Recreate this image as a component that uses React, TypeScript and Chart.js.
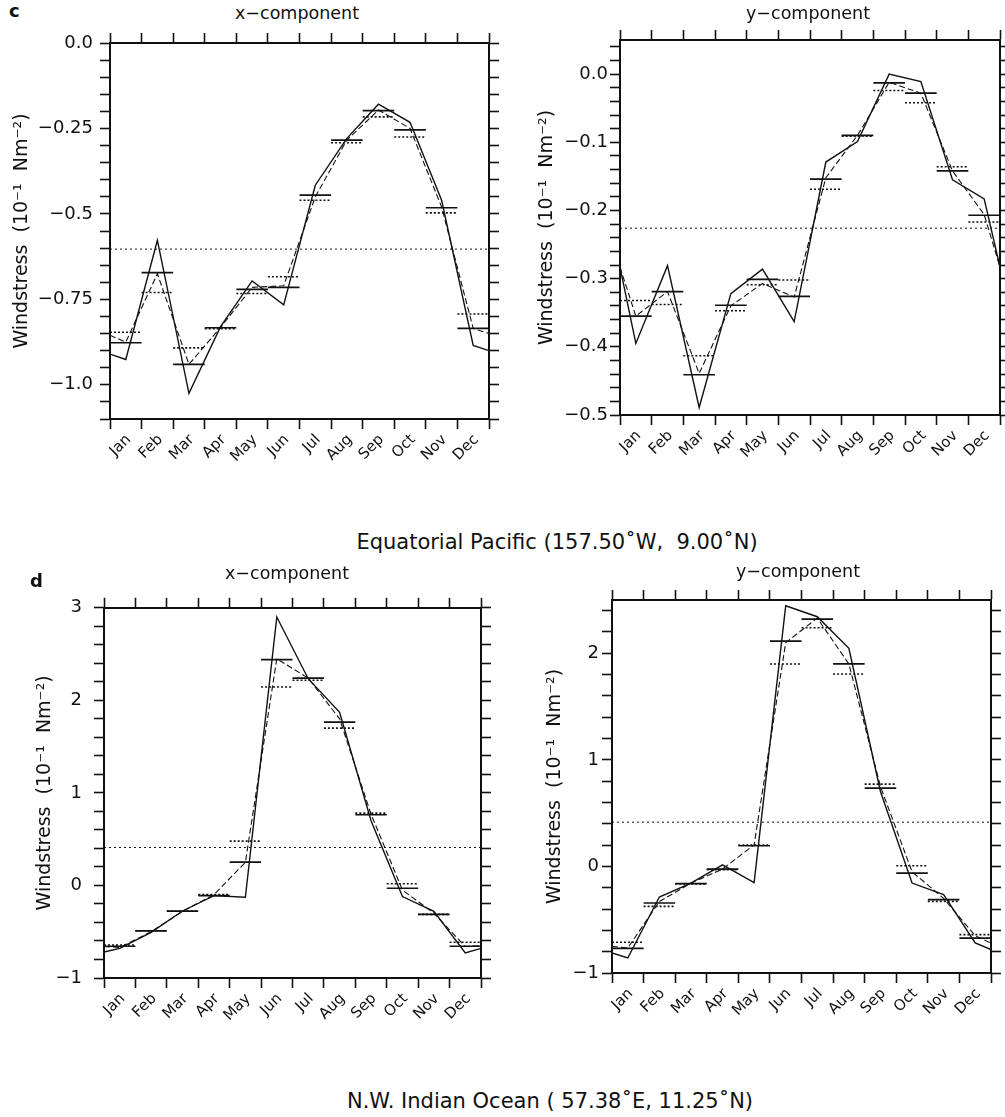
import React, { useEffect, useRef } from 'react';
import { Chart, registerables } from 'chart.js';

Chart.register(...registerables);

const FONT = '"DejaVu Sans", "Liberation Sans", sans-serif';
const INK = '#111111';

const MONTHS = ['Jan', 'Feb', 'Mar', 'Apr', 'May', 'Jun', 'Jul', 'Aug', 'Sep', 'Oct', 'Nov', 'Dec'];
const Y_TITLE = 'Windstress  (10\u207B\u00B9  Nm\u207B\u00B2)';

// ---- Panel c, x-component (Equatorial Pacific) ----
const cxSolidStart = -0.91;
const cxSolid = [-0.926, -0.577, -1.025, -0.83, -0.696, -0.766, -0.416, -0.279, -0.179, -0.232, -0.46, -0.885];
const cxSolidEnd = -0.9;
const cxDashedStart = -0.855;
const cxDashed = [-0.875, -0.675, -0.94, -0.832, -0.715, -0.71, -0.45, -0.284, -0.196, -0.25, -0.48, -0.835];
const cxDashedEnd = -0.85;
const cxSolidBars = [-0.877, -0.672, -0.94, -0.833, -0.721, -0.715, -0.445, -0.284, -0.198, -0.254, -0.482, -0.835];
const cxDottedBars = [-0.846, -0.73, -0.892, -0.836, -0.733, -0.684, -0.46, -0.292, -0.216, -0.275, -0.497, -0.793];
const cxMean = -0.603;
const cxMajorValues = [0, -0.25, -0.5, -0.75, -1.0];
const cxMajorLabels = ['0.0', '\u22120.25', '\u22120.5', '\u22120.75', '\u22121.0'];

// ---- Panel c, y-component ----
const cySolidStart = -0.283;
const cySolid = [-0.395, -0.281, -0.489, -0.322, -0.286, -0.363, -0.129, -0.099, 0.0, -0.011, -0.155, -0.183];
const cySolidEnd = -0.283;
const cyDashedStart = -0.283;
const cyDashed = [-0.355, -0.319, -0.439, -0.34, -0.307, -0.327, -0.152, -0.09, -0.012, -0.028, -0.142, -0.206];
const cyDashedEnd = -0.283;
const cySolidBars = [-0.355, -0.319, -0.441, -0.339, -0.301, -0.326, -0.154, -0.09, -0.013, -0.028, -0.142, -0.207];
const cyDottedBars = [-0.332, -0.338, -0.413, -0.347, -0.309, -0.302, -0.169, -0.091, -0.024, -0.042, -0.136, -0.217];
const cyMean = -0.226;
const cyMajorValues = [0, -0.1, -0.2, -0.3, -0.4, -0.5];
const cyMajorLabels = ['0.0', '\u22120.1', '\u22120.2', '\u22120.3', '\u22120.4', '\u22120.5'];

// ---- Panel d, x-component (N.W. Indian Ocean) ----
const dxSolidStart = -0.72;
const dxSolid = [-0.68, -0.507, -0.276, -0.11, -0.128, 2.9, 2.234, 1.87, 0.7, -0.12, -0.28, -0.73];
const dxSolidEnd = -0.68;
const dxDashedStart = -0.66;
const dxDashed = [-0.67, -0.5, -0.28, -0.1, 0.25, 2.45, 2.24, 1.8, 0.77, -0.05, -0.3, -0.66];
const dxDashedEnd = -0.65;
const dxSolidBars = [-0.657, -0.49, -0.277, -0.11, 0.251, 2.44, 2.24, 1.764, 0.764, -0.03, -0.312, -0.657];
const dxDottedBars = [-0.643, -0.49, -0.277, -0.098, 0.479, 2.145, 2.217, 1.7, 0.781, 0.018, -0.312, -0.614];
const dxMean = 0.41;
const dxMajorValues = [3, 2, 1, 0, -1];
const dxMajorLabels = ['3', '2', '1', '0', '\u22121'];

// ---- Panel d, y-component ----
const dySolidStart = -0.812;
const dySolid = [-0.859, -0.287, -0.156, 0.015, -0.152, 2.446, 2.343, 2.047, 0.703, -0.156, -0.265, -0.718];
const dySolidEnd = -0.78;
const dyDashedStart = -0.75;
const dyDashed = [-0.765, -0.33, -0.156, -0.025, 0.203, 2.1, 2.33, 1.9, 0.75, -0.05, -0.3, -0.65];
const dyDashedEnd = -0.72;
const dySolidBars = [-0.768, -0.343, -0.162, -0.025, 0.194, 2.115, 2.32, 1.9, 0.735, -0.062, -0.312, -0.672];
const dyDottedBars = [-0.712, -0.375, -0.165, -0.03, 0.2, 1.9, 2.24, 1.806, 0.772, 0.007, -0.328, -0.64];
const dyMean = 0.415;
const dyMajorValues = [2, 1, 0, -1];
const dyMajorLabels = ['2', '1', '0', '\u22121'];

type Pt = { x: number; y: number | null };

function monthlyLine(start: number, vals: number[], end: number): Pt[] {
  const pts: Pt[] = [{ x: 0, y: start }];
  vals.forEach((v, i) => pts.push({ x: i + 0.5, y: v }));
  pts.push({ x: vals.length, y: end });
  return pts;
}

function stepSegments(vals: number[]): Pt[] {
  const pts: Pt[] = [];
  vals.forEach((v, i) => {
    pts.push({ x: i, y: v }, { x: i + 1, y: v }, { x: i + 1, y: null });
  });
  return pts;
}

function constantLine(v: number): Pt[] {
  return [{ x: 0, y: v }, { x: 12, y: v }];
}

type PanelDef = {
  canvas: { left: number; top: number; width: number; height: number };
  plot: { l: number; r: number; t: number; b: number };
  yMin: number;
  yMax: number;
  yStep: number;
  majors: number[];
  majorLabels: string[];
  tickPad: number;
  titlePad: number;
  solid: Pt[];
  dashed: Pt[];
  solidBars: Pt[];
  dottedBars: Pt[];
  mean: Pt[];
};

const PANELS: PanelDef[] = [
  {
    canvas: { left: 0, top: 25, width: 520, height: 450 },
    plot: { l: 110, r: 489, t: 43, b: 419 },
    yMin: -1.1, yMax: 0, yStep: 0.05,
    majors: cxMajorValues, majorLabels: cxMajorLabels,
    tickPad: 7, titlePad: 11,
    solid: monthlyLine(cxSolidStart, cxSolid, cxSolidEnd),
    dashed: monthlyLine(cxDashedStart, cxDashed, cxDashedEnd),
    solidBars: stepSegments(cxSolidBars),
    dottedBars: stepSegments(cxDottedBars),
    mean: constantLine(cxMean),
  },
  {
    canvas: { left: 505, top: 25, width: 525, height: 450 },
    plot: { l: 620, r: 1000, t: 40, b: 415 },
    yMin: -0.5, yMax: 0.05, yStep: 0.02,
    majors: cyMajorValues, majorLabels: cyMajorLabels,
    tickPad: 2, titlePad: 31,
    solid: monthlyLine(cySolidStart, cySolid, cySolidEnd),
    dashed: monthlyLine(cyDashedStart, cyDashed, cyDashedEnd),
    solidBars: stepSegments(cySolidBars),
    dottedBars: stepSegments(cyDottedBars),
    mean: constantLine(cyMean),
  },
  {
    canvas: { left: 0, top: 585, width: 520, height: 450 },
    plot: { l: 104, r: 481, t: 604, b: 978 },
    yMin: -1, yMax: 3, yStep: 0.2,
    majors: dxMajorValues, majorLabels: dxMajorLabels,
    tickPad: 12, titlePad: 34,
    solid: monthlyLine(dxSolidStart, dxSolid, dxSolidEnd),
    dashed: monthlyLine(dxDashedStart, dxDashed, dxDashedEnd),
    solidBars: stepSegments(dxSolidBars),
    dottedBars: stepSegments(dxDottedBars),
    mean: constantLine(dxMean),
  },
  {
    canvas: { left: 505, top: 585, width: 525, height: 450 },
    plot: { l: 612, r: 991, t: 600, b: 973 },
    yMin: -1, yMax: 2.5, yStep: 0.2,
    majors: dyMajorValues, majorLabels: dyMajorLabels,
    tickPad: 3, titlePad: 39,
    solid: monthlyLine(dySolidStart, dySolid, dySolidEnd),
    dashed: monthlyLine(dyDashedStart, dyDashed, dyDashedEnd),
    solidBars: stepSegments(dySolidBars),
    dottedBars: stepSegments(dyDottedBars),
    mean: constantLine(dyMean),
  },
];

function makeConfig(p: PanelDef): any {
  const c = p.canvas;
  const leftW = p.plot.l - c.left;
  const rightW = c.left + c.width - p.plot.r;
  const topH = p.plot.t - c.top;
  const bottomH = c.top + c.height - p.plot.b;
  const monthWidth = (p.plot.r - p.plot.l) / 12;
  const grid = { drawOnChartArea: false, drawTicks: true, tickLength: 10, tickColor: INK, tickWidth: 1.6 };
  const border = { display: true, color: INK, width: 2 };
  const labelFor = (v: number) => {
    const k = p.majors.findIndex((m) => Math.abs(m - v) < 1e-6);
    return k >= 0 ? p.majorLabels[k] : '';
  };
  return {
    type: 'line',
    data: {
      datasets: [
        { data: p.mean, borderColor: INK, borderWidth: 1, borderDash: [2, 3] },
        { data: p.dottedBars, borderColor: INK, borderWidth: 1.6, borderDash: [2, 2], spanGaps: false },
        { data: p.solidBars, borderColor: INK, borderWidth: 1.7, spanGaps: false },
        { data: p.dashed, borderColor: INK, borderWidth: 1.1, borderDash: [6, 3] },
        { data: p.solid, borderColor: INK, borderWidth: 1.4 },
      ],
    },
    options: {
      responsive: false,
      animation: false,
      events: [],
      layout: { padding: 0 },
      elements: { point: { radius: 0 }, line: { tension: 0, fill: false } },
      plugins: { legend: { display: false }, tooltip: { enabled: false }, title: { display: false } },
      scales: {
        x: {
          type: 'linear', position: 'bottom', min: 0, max: 12,
          grid, border,
          ticks: {
            stepSize: 1, autoSkip: false, includeBounds: false,
            minRotation: 45, maxRotation: 45,
            labelOffset: monthWidth / 2 + 3, padding: 2,
            color: INK, font: { family: FONT, size: 15 },
            callback: (_v: number, i: number) => (i < MONTHS.length ? MONTHS[i] : ''),
          },
          afterFit: (s: any) => { s.height = bottomH; },
        },
        xTop: {
          type: 'linear', position: 'top', min: 0, max: 12,
          grid, border,
          ticks: { stepSize: 1, display: false, autoSkip: false },
          afterFit: (s: any) => { s.height = topH; },
        },
        y: {
          type: 'linear', position: 'left', min: p.yMin, max: p.yMax,
          grid, border,
          ticks: {
            stepSize: p.yStep, autoSkip: false, includeBounds: false,
            padding: p.tickPad, color: INK, font: { family: FONT, size: 18 },
            callback: (v: number) => labelFor(v),
          },
          title: {
            display: true, text: Y_TITLE, color: INK,
            font: { family: FONT, size: 19 },
            padding: { top: p.titlePad, bottom: 0 },
          },
          afterFit: (s: any) => { s.width = leftW; },
        },
        yRight: {
          type: 'linear', position: 'right', min: p.yMin, max: p.yMax,
          grid, border,
          ticks: { stepSize: p.yStep, display: false, autoSkip: false, includeBounds: false },
          afterFit: (s: any) => { s.width = rightW; },
        },
      },
    },
  };
}

function Panel({ def }: { def: PanelDef }) {
  const ref = useRef<HTMLCanvasElement | null>(null);
  useEffect(() => {
    if (!ref.current) return;
    const chart = new Chart(ref.current, makeConfig(def));
    return () => chart.destroy();
  }, [def]);
  const c = def.canvas;
  return (
    <canvas
      ref={ref}
      width={c.width}
      height={c.height}
      style={{ position: 'absolute', left: c.left, top: c.top, width: c.width, height: c.height }}
    />
  );
}

function Label({ text, cx, left, baseline, size, bold }: { text: string; cx?: number; left?: number; baseline: number; size: number; bold?: boolean }) {
  const top = baseline - 0.846 * size;
  const style: React.CSSProperties = {
    position: 'absolute',
    top,
    fontFamily: FONT,
    fontSize: size,
    lineHeight: 1,
    fontWeight: bold ? 'bold' : 'normal',
    whiteSpace: 'pre',
    color: INK,
  };
  if (cx !== undefined) {
    style.left = cx;
    style.transform = 'translateX(-50%)';
  } else {
    style.left = left;
  }
  return <div style={style}>{text}</div>;
}

export default function App() {
  return (
    <div style={{ position: 'absolute', left: 0, top: 0, width: 1005, height: 1117, overflow: 'hidden', background: '#fff' }}>
      {PANELS.map((p, i) => (
        <Panel key={i} def={p} />
      ))}
      <Label text="c" left={9} baseline={17} size={18} bold />
      <Label text="d" left={30} baseline={587} size={18} bold />
      <Label text={'x\u2212component'} cx={297} baseline={20} size={17.5} />
      <Label text={'y\u2212component'} cx={808} baseline={20} size={17.5} />
      <Label text={'x\u2212component'} cx={287} baseline={580} size={17.5} />
      <Label text={'y\u2212component'} cx={798} baseline={578} size={17.5} />
      <Label text={'Equatorial Pacific (157.50\u02DAW,  9.00\u02DAN)'} cx={557} baseline={550} size={21} />
      <Label text={'N.W. Indian Ocean ( 57.38\u02DAE, 11.25\u02DAN)'} cx={550} baseline={1109} size={21} />
    </div>
  );
}
